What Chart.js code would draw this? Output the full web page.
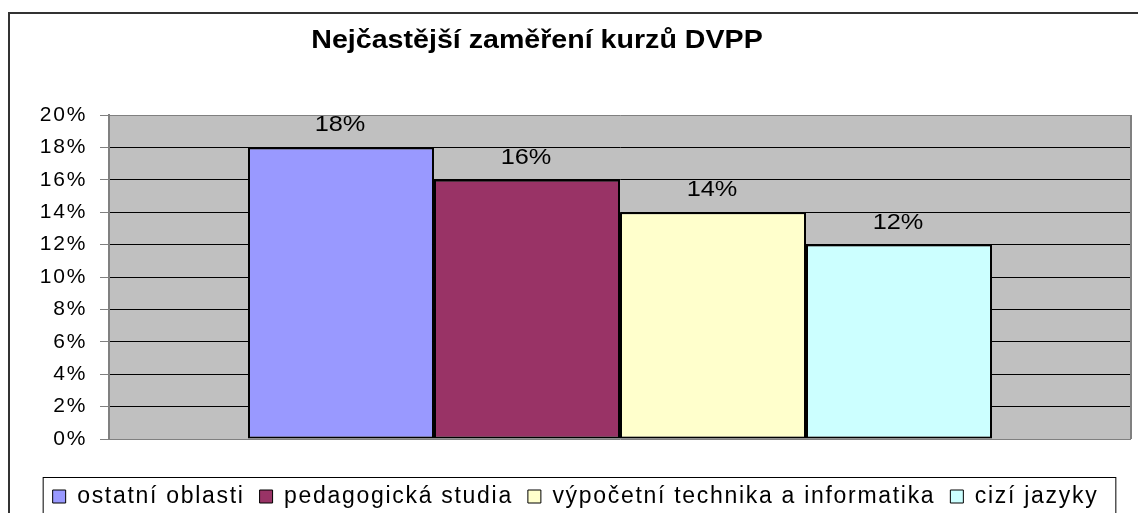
<!DOCTYPE html>
<html>
<head>
<meta charset="utf-8">
<script src="https://cdn.jsdelivr.net/npm/chart.js@4"></script>
<style>
    body { margin: 0; background: #fff; overflow: hidden; }
    #wrap { position: absolute; left: 0; top: 0; width: 1138px; height: 540px; }
</style>
</head>
<body>
<div id="wrap"><canvas id="dvpp-chart" width="1138" height="540"></canvas></div>
<script>
const chartTitle = 'Nejčastější zaměření kurzů DVPP';
const categories = [''];
const seriesNames = ['ostatní oblasti', 'pedagogická studia', 'výpočetní technika a informatika', 'cizí jazyky'];
const seriesValues = [0.18, 0.16, 0.14, 0.12];
const seriesColors = ['#9999FF', '#993366', '#FFFFCC', '#CCFFFF'];
const tickLabels = ['0%', '2%', '4%', '6%', '8%', '10%', '12%', '14%', '16%', '18%', '20%'];

const FONT = "'Liberation Sans', Arial, sans-serif";
const SPACING = '1.7px';   // the original text is a bit wider than plain Arial

function pct(v) {
    return Math.round(v * 100) + '%';
}

// draw text stretched sideways, centred on x
function wideText(c, text, x, y, sx) {
    c.save();
    c.translate(x, y);
    c.scale(sx, 1);
    c.fillText(text, 0, 0);
    c.restore();
}

// grey plot area, outer frame, title, right border, legend frame
const excelLook = {
    id: 'excelLook',
    beforeLayout(chart) {
        chart.ctx.letterSpacing = SPACING;
    },
    afterLayout(chart) {
        // legend sits a little right of centre in the original
        chart.legend.left += 10;
        chart.legend.right += 10;
    },
    beforeDraw(chart) {
        const c = chart.ctx;
        const a = chart.chartArea;
        c.letterSpacing = SPACING;
        c.save();
        c.fillStyle = '#C0C0C0';
        c.fillRect(a.left, a.top, a.right - a.left, a.bottom - a.top);
        c.strokeStyle = '#333';
        c.lineWidth = 2;
        c.strokeRect(9, 13, 1300, 800);
        c.fillStyle = '#000';
        c.font = 'bold 26px ' + FONT;
        c.letterSpacing = '0px';
        c.textAlign = 'center';
        c.textBaseline = 'alphabetic';
        wideText(c, chartTitle, 537, 48, 1.1);
        c.restore();
    },
    afterDraw(chart) {
        const c = chart.ctx;
        const a = chart.chartArea;
        c.save();
        c.strokeStyle = '#808080';
        c.lineWidth = 2;
        c.beginPath();
        c.moveTo(a.right, a.top);
        c.lineTo(a.right, a.bottom);
        c.stroke();
        const boxes = chart.legend.legendHitBoxes;
        if (boxes && boxes.length) {
            const first = boxes[0];
            const last = boxes[boxes.length - 1];
            const left = first.left - 10;
            const right = last.left + last.width + 17;
            c.strokeStyle = '#000';
            c.lineWidth = 1;
            c.strokeRect(left + 0.5, 477.5, right - left, 100);
        }
        c.restore();
    }
};

// value labels above the bars
const barLabels = {
    id: 'barLabels',
    afterDatasetsDraw(chart) {
        const c = chart.ctx;
        c.save();
        c.fillStyle = '#000';
        c.font = '22px ' + FONT;
        c.letterSpacing = '0px';
        c.textAlign = 'center';
        c.textBaseline = 'alphabetic';
        chart.data.datasets.forEach((ds, i) => {
            const meta = chart.getDatasetMeta(i);
            meta.data.forEach((bar, j) => {
                wideText(c, pct(ds.data[j]), bar.x - 1, bar.y - 16, 1.15);
            });
        });
        c.restore();
    }
};

const datasets = seriesNames.map((name, i) => ({
    label: name,
    data: [seriesValues[i]],
    backgroundColor: seriesColors[i],
    borderColor: '#000',
    borderWidth: 2,
    borderSkipped: false,
    barPercentage: 1,
    categoryPercentage: 0.728
}));

new Chart(document.getElementById('dvpp-chart'), {
    type: 'bar',
    data: {
        labels: categories,
        datasets: datasets
    },
    options: {
        responsive: false,
        animation: false,
        devicePixelRatio: 1,
        layout: {
            padding: { top: 115, left: 0, right: 7, bottom: 22 }
        },
        scales: {
            x: {
                ticks: { display: false },
                grid: { display: false },
                border: { display: false },
                afterFit: (s) => { s.height = 31; }
            },
            y: {
                min: 0,
                max: 0.2,
                ticks: {
                    stepSize: 0.02,
                    padding: 13,
                    color: '#000',
                    font: { family: FONT, size: 21 },
                    callback: (v) => tickLabels[Math.round(v * 50)]
                },
                grid: {
                    color: (ctx) => (ctx.tick && (ctx.tick.value === 0 || Math.abs(ctx.tick.value - 0.2) < 1e-9)) ? '#808080' : '#000',
                    tickColor: '#808080',
                    tickLength: 9,
                    lineWidth: 1
                },
                border: { color: '#808080', width: 2 },
                afterFit: (s) => { s.width = 109; }
            }
        },
        plugins: {
            title: { display: false },
            tooltip: { enabled: false },
            legend: {
                position: 'bottom',
                labels: {
                    boxWidth: 13,
                    boxHeight: 13,
                    padding: 15,
                    color: '#000',
                    font: { family: FONT, size: 23 },
                    generateLabels: (chart) => {
                        const items = Chart.defaults.plugins.legend.labels.generateLabels(chart);
                        items.forEach((it) => {
                            it.lineWidth = 1;
                            it.strokeStyle = '#000';
                        });
                        return items;
                    }
                }
            }
        }
    },
    plugins: [excelLook, barLabels]
});
</script>
</body>
</html>
